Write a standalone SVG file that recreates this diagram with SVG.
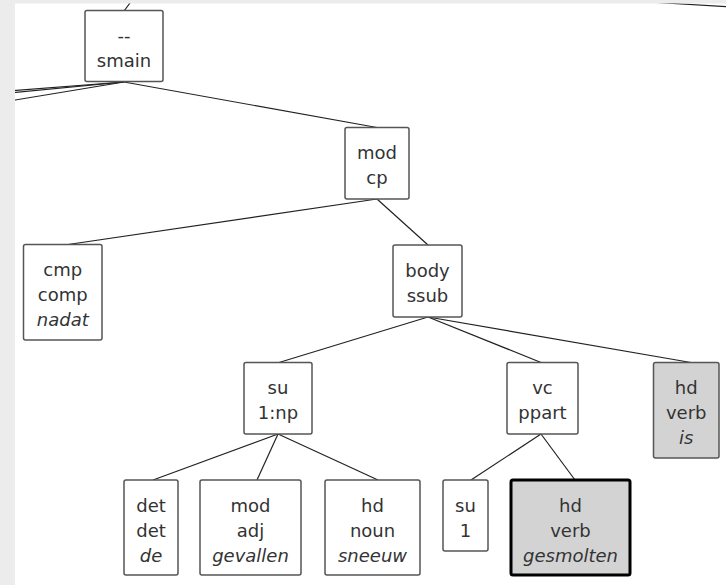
<svg xmlns="http://www.w3.org/2000/svg" width="726" height="585" viewBox="0 0 726 585">
<style>
.box{fill:#fff;stroke:#555;stroke-width:1.5}
.hl{fill:#d3d3d3}
.sel{stroke:#000;stroke-width:3}
text{font-family:"DejaVu Sans","Liberation Sans",sans-serif;font-size:18px;fill:#333;text-anchor:middle}
.w{font-style:italic}
#edges line{stroke:#222;stroke-width:1.2}
</style>
<rect x="0" y="0" width="726" height="585" fill="#fff"/>
<g id="edges">
<line x1="124" y1="11" x2="136" y2="-5"/>
<line x1="124" y1="82" x2="0" y2="91.7"/>
<line x1="124" y1="82" x2="0" y2="93.9"/>
<line x1="124" y1="82" x2="0" y2="102.5"/>
<line x1="640" y1="1.5" x2="726" y2="6.7"/>
<line x1="124" y1="82" x2="377" y2="127.5"/>
<line x1="377" y1="199" x2="68" y2="244.5"/>
<line x1="377" y1="199" x2="428" y2="245"/>
<line x1="428" y1="317" x2="279" y2="362.5"/>
<line x1="428" y1="317" x2="541" y2="362.5"/>
<line x1="428" y1="317" x2="691" y2="362.5"/>
<line x1="278" y1="434" x2="153" y2="480"/>
<line x1="278" y1="434" x2="257" y2="480"/>
<line x1="278" y1="434" x2="378" y2="480"/>
<line x1="541" y1="434" x2="471" y2="480"/>
<line x1="541" y1="434" x2="575" y2="480"/>
</g>
<g id="n_smain"><rect class="box" x="85" y="10.5" width="78" height="71" rx="2"/><text x="124" y="42">--</text><text x="124" y="67">smain</text></g>
<g id="n_mod_cp"><rect class="box" x="345" y="127.5" width="64" height="71.5" rx="2"/><text x="377" y="159">mod</text><text x="377" y="184">cp</text></g>
<g id="n_cmp"><rect class="box" x="23.5" y="244.5" width="78.5" height="95.5" rx="2"/><text x="62.75" y="276">cmp</text><text x="62.75" y="301">comp</text><text class="w" x="62.75" y="326">nadat</text></g>
<g id="n_body"><rect class="box" x="393" y="245" width="69" height="72" rx="2"/><text x="427.5" y="276.5">body</text><text x="427.5" y="301.5">ssub</text></g>
<g id="n_su_np"><rect class="box" x="244" y="362.5" width="68" height="71.5" rx="2"/><text x="278" y="394">su</text><text x="278" y="419">1:np</text></g>
<g id="n_vc"><rect class="box" x="507" y="362.5" width="71" height="71.5" rx="2"/><text x="542.5" y="394">vc</text><text x="542.5" y="419">ppart</text></g>
<g id="n_is"><rect class="box hl" x="653.5" y="362.5" width="65.5" height="95.5" rx="2"/><text x="686.25" y="394">hd</text><text x="686.25" y="419">verb</text><text class="w" x="686.25" y="444">is</text></g>
<g id="n_de"><rect class="box" x="124" y="480" width="54" height="95" rx="2"/><text x="151" y="511.5">det</text><text x="151" y="536.5">det</text><text class="w" x="151" y="561.5">de</text></g>
<g id="n_gevallen"><rect class="box" x="200" y="480" width="101" height="95" rx="2"/><text x="250.5" y="511.5">mod</text><text x="250.5" y="536.5">adj</text><text class="w" x="250.5" y="561.5">gevallen</text></g>
<g id="n_sneeuw"><rect class="box" x="325" y="480" width="95" height="95" rx="2"/><text x="372.5" y="511.5">hd</text><text x="372.5" y="536.5">noun</text><text class="w" x="372.5" y="561.5">sneeuw</text></g>
<g id="n_su1"><rect class="box" x="443" y="480" width="45" height="71" rx="2"/><text x="465.5" y="511.5">su</text><text x="465.5" y="536.5">1</text></g>
<g id="n_gesmolten"><rect class="box hl sel" x="511" y="480" width="119" height="95" rx="2"/><text x="570.5" y="511.5">hd</text><text x="570.5" y="536.5">verb</text><text class="w" x="570.5" y="561.5">gesmolten</text></g>
<rect x="0" y="0" width="726" height="3.5" fill="#ececec"/>
<rect x="0" y="0" width="15" height="585" fill="#ececec"/>
</svg>
